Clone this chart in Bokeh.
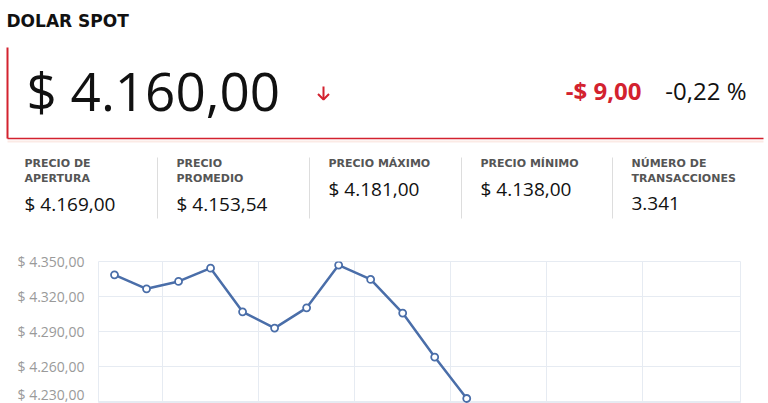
from bokeh.plotting import figure
from bokeh.models import Range1d, FixedTicker, Grid
from bokeh.core.properties import value
from bokeh.embed import file_html
from bokeh.resources import INLINE

# ---------------- data ----------------
title = "DOLAR SPOT"
price_text = "$ 4.160,00"
change_text = "-$ 9,00"
change_pct_text = "-0,22 %"

stat_labels = [["PRECIO DE", "APERTURA"], ["PRECIO", "PROMEDIO"], ["PRECIO MÁXIMO"],
               ["PRECIO MÍNIMO"], ["NÚMERO DE", "TRANSACCIONES"]]
stat_values = ["$ 4.169,00", "$ 4.153,54", "$ 4.181,00", "$ 4.138,00", "3.341"]

series_x = [0, 1, 2, 3, 4, 5, 6, 7, 8, 9, 10, 11]
series_y = [4338.6, 4326.6, 4332.9, 4344.3, 4306.9, 4292.9, 4310.3, 4346.9,
            4334.6, 4305.8, 4268.1, 4232.6]

y_ticks = [4230, 4260, 4290, 4320, 4350]
y_tick_labels = ["$ 4.230,00", "$ 4.260,00", "$ 4.290,00", "$ 4.320,00", "$ 4.350,00"]
x_grid_positions = [1.5, 4.5, 7.5, 10.5, 13.5, 16.5]

FONT = "Open Sans"
CAPS_FONT = "DejaVu Sans"
RED = "#d3222f"
BLUE = "#4a6ea9"
GRID = "#e6ebf2"

W = 768
HEAD_H = 240

# ---------------- header: data coordinates equal page pixels ----------------
head = figure(width=W, height=HEAD_H, x_range=Range1d(0, W), y_range=Range1d(HEAD_H, 0),
              output_backend="svg", toolbar_location=None, x_axis_location=None,
              y_axis_location=None, min_border=0, min_border_left=0, min_border_right=0,
              min_border_top=0, min_border_bottom=0, outline_line_color=None)
head.xgrid.visible = False
head.ygrid.visible = False

BASE_SHIFT = 0.41  # compensation of the rendered baseline offset, in em


def txt(x, y, s, size, color="#111111", style="normal", align="left", font=FONT):
    y_adj = y - BASE_SHIFT * size
    head.text(x=[x], y=[y_adj], text=[s], text_font=value(font),
              text_font_size=f"{size}px", text_color=color, text_font_style=style,
              text_align=align, text_baseline="alphabetic")


txt(6, 27, title, 17, "#111111", "bold", font=CAPS_FONT)
head.segment(x0=[7], y0=[47], x1=[7], y1=[138], line_color=RED, line_width=2)
head.segment(x0=[7], y0=[141], x1=[763], y1=[141], line_color="#fbeae5", line_width=2)
head.segment(x0=[7], y0=[138], x1=[763], y1=[138], line_color=RED, line_width=1.5)

txt(26, 112, price_text, 53, "#111111")
# down arrow
head.segment(x0=[323], y0=[86], x1=[323], y1=[99], line_color=RED, line_width=2)
head.line(x=[317.5, 323, 328.5], y=[93.5, 99, 93.5], line_color=RED, line_width=2)
txt(641, 100, change_text, 24, RED, "bold", align="right")
txt(746, 100, change_pct_text, 24, "#111111", align="right")

col_x = [24, 176, 328, 480, 631]
sep_x = [157, 309, 461, 612]
head.segment(x0=sep_x, y0=[157] * 4, x1=sep_x, y1=[218] * 4,
             line_color="#dddddd", line_width=1)
for cx, labs, val in zip(col_x, stat_labels, stat_values):
    for i, lab in enumerate(labs):
        txt(cx, 168 + 14.5 * i, lab, 11, "#555555", "bold", font=CAPS_FONT)
    vy = 211 if len(labs) == 2 else 196
    txt(cx, vy, val, 19, "#111111")

# ---------------- chart ----------------
FL, FR = 98, 740
chart = figure(width=W, height=163, x_range=Range1d(-0.5, 19.55),
               y_range=Range1d(4228.3, 4350), output_backend="svg",
               toolbar_location=None, x_axis_location=None, y_axis_location="left",
               min_border_left=FL, min_border_right=W - FR, min_border_top=21,
               min_border_bottom=0, outline_line_color=GRID)
chart.xgrid.visible = False
chart.add_layout(Grid(dimension=0, ticker=FixedTicker(ticks=x_grid_positions),
                      grid_line_color=GRID, grid_line_width=1))
chart.ygrid.grid_line_color = GRID
chart.yaxis.ticker = FixedTicker(ticks=y_ticks)
chart.yaxis.major_label_overrides = dict(zip(y_ticks, y_tick_labels))
chart.yaxis.axis_line_color = None
chart.yaxis.major_tick_line_color = None
chart.yaxis.minor_tick_line_color = None
chart.yaxis.major_label_standoff = 8
chart.yaxis.major_label_text_font = FONT
chart.yaxis.major_label_text_font_size = "14px"
chart.yaxis.major_label_text_color = "#9a9a9a"

chart.line(series_x, series_y, line_color=BLUE, line_width=2.5)
chart.scatter(series_x, series_y, size=7, fill_color="white", line_color=BLUE,
              line_width=1.8)

open("out.html", "w").write(file_html([head, chart], INLINE))
